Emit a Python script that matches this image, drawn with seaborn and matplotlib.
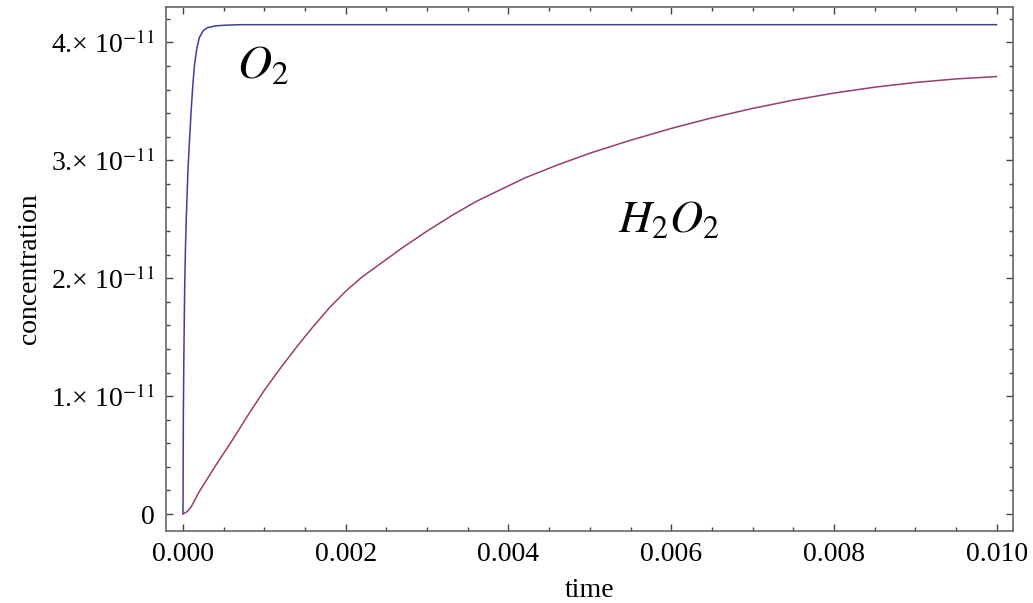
import numpy as np
import pandas as pd
import matplotlib
matplotlib.use("Agg")
import matplotlib.pyplot as plt
import seaborn as sns
from matplotlib.ticker import FixedLocator, FixedFormatter, MultipleLocator

# ---- data (concentration in units of 1e-11) ----
o2_time = [0.0, 0.000004, 0.00001, 0.00002, 0.00003, 0.00004, 0.00006, 0.00008,
           0.0001, 0.00012, 0.00014, 0.00017, 0.0002, 0.00025, 0.0003, 0.0004,
           0.0005, 0.0007, 0.001, 0.003, 0.006, 0.010]
o2_conc = [0.0, 0.8, 1.3, 1.9, 2.25, 2.5, 2.9, 3.17,
           3.42, 3.63, 3.80, 3.95, 4.04, 4.10, 4.125, 4.14,
           4.145, 4.15, 4.15, 4.15, 4.15, 4.15]

h2o2_time = [0.0, 0.00005, 0.0001, 0.0002, 0.0003, 0.0004, 0.0006, 0.0008,
             0.0010, 0.0012, 0.0014, 0.0016, 0.0018, 0.0020, 0.0022, 0.0024,
             0.0027, 0.0030, 0.0033, 0.0036, 0.0039, 0.0042, 0.0046, 0.0050,
             0.0055, 0.0060, 0.0065, 0.0070, 0.0075, 0.0080, 0.0085, 0.0090,
             0.0095, 0.0100]
h2o2_conc = [0.0, 0.02, 0.06, 0.19, 0.30, 0.41, 0.62, 0.84,
             1.05, 1.24, 1.42, 1.59, 1.75, 1.89, 2.01, 2.11,
             2.26, 2.40, 2.53, 2.65, 2.75, 2.85, 2.96, 3.06,
             3.17, 3.27, 3.36, 3.44, 3.51, 3.57, 3.62, 3.66,
             3.69, 3.71]

x_ticks = [0.000, 0.002, 0.004, 0.006, 0.008, 0.010]
x_tick_labels = ["0.000", "0.002", "0.004", "0.006", "0.008", "0.010"]
y_ticks = [0.0, 1e-11, 2e-11, 3e-11, 4e-11]
y_tick_labels = ["0", "1.\u00d7 10$^{-11}$", "2.\u00d7 10$^{-11}$",
                 "3.\u00d7 10$^{-11}$", "4.\u00d7 10$^{-11}$"]

x_label = "time"
y_label = "concentration"
o2_label = "$O_2$"
h2o2_label = "$H_2O_2$"

# ---- style ----
sns.set_theme(style="white")
plt.rcParams["font.family"] = ["Liberation Serif", "DejaVu Serif"]
plt.rcParams["mathtext.fontset"] = "stix"
plt.rcParams["text.color"] = "black"

blue = "#3e3d99"
purple = "#993d71"
frame = "#666666"

fig = plt.figure(figsize=(10.33, 6.03), dpi=100)
ax = fig.add_axes([166 / 1033, 72 / 603, (1013 - 166) / 1033, (531 - 7) / 603])

df_o2 = pd.DataFrame({"time": o2_time, "conc": np.array(o2_conc) * 1e-11})
df_h = pd.DataFrame({"time": h2o2_time, "conc": np.array(h2o2_conc) * 1e-11})

sns.lineplot(data=df_o2, x="time", y="conc", ax=ax, color=blue, linewidth=1.1,
             estimator=None, sort=False)
sns.lineplot(data=df_h, x="time", y="conc", ax=ax, color=purple, linewidth=1.1,
             estimator=None, sort=False)

ax.set_xlim(-0.000209, 0.0102)
ax.set_ylim(-0.144e-11, 4.30e-11)

ax.xaxis.set_major_locator(FixedLocator(x_ticks))
ax.xaxis.set_major_formatter(FixedFormatter(x_tick_labels))
ax.xaxis.set_minor_locator(MultipleLocator(0.0005))
ax.yaxis.set_major_locator(FixedLocator(y_ticks))
ax.yaxis.set_major_formatter(FixedFormatter(y_tick_labels))
ax.yaxis.set_minor_locator(MultipleLocator(0.2e-11))

for s in ax.spines.values():
    s.set_visible(True)
    s.set_color(frame)
    s.set_linewidth(1.2)

ax.tick_params(which="both", direction="in", top=True, right=True,
               bottom=True, left=True, color="#444444", width=1.0,
               labelsize=20, labelcolor="black")
ax.tick_params(which="major", length=5, pad=8)
ax.tick_params(which="minor", length=3)

ax.set_xlabel(x_label, fontsize=20, labelpad=8, color="black")
ax.set_ylabel(y_label, fontsize=20, labelpad=6, color="black")

ax.text(0.000664, 3.69e-11, o2_label, fontsize=34, va="baseline", ha="left",
        color="black")
ax.text(0.00535, 2.39e-11, h2o2_label, fontsize=33, va="baseline", ha="left",
        color="black")

fig.savefig("out.png", dpi=100)
